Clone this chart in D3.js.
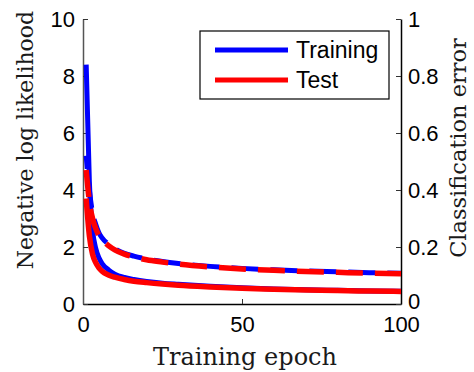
<!DOCTYPE html>
<html>
<head>
<meta charset="utf-8">
<script src="https://cdn.jsdelivr.net/npm/d3@7"></script>
<style>
  body { margin: 0; background: #fff; }
  svg { display: block; }
  .tick text { font-family: "Liberation Sans", Arial, sans-serif; font-size: 22px; fill: #000; }
  .title { font-family: "DejaVu Serif", serif; fill: #1a1a1a; }
</style>
</head>
<body>
<div id="chart"></div>
<script>
// values
const epochs    = [1, 2, 3, 4, 5, 6, 8, 10, 13, 16, 20, 25, 30, 40, 50, 60, 70, 80, 90, 100];
const trainNll  = [8.4, 4.3, 2.6, 1.95, 1.62, 1.42, 1.2, 1.05, 0.93, 0.86, 0.79, 0.73, 0.69, 0.62, 0.57, 0.53, 0.5, 0.48, 0.46, 0.45];
const testNll   = [3.7, 2.4, 1.75, 1.45, 1.27, 1.15, 1.02, 0.94, 0.86, 0.8, 0.75, 0.7, 0.66, 0.6, 0.55, 0.52, 0.49, 0.47, 0.455, 0.44];
const trainErr  = [0.52, 0.4, 0.32, 0.28, 0.25, 0.232, 0.21, 0.194, 0.178, 0.168, 0.158, 0.149, 0.142, 0.132, 0.125, 0.12, 0.116, 0.113, 0.11, 0.108];
const testErr   = [0.47, 0.36, 0.3, 0.265, 0.24, 0.225, 0.205, 0.19, 0.175, 0.165, 0.155, 0.147, 0.14, 0.13, 0.123, 0.118, 0.114, 0.111, 0.108, 0.106];
const xTicks    = [0, 50, 100];
const leftTicks = [0, 2, 4, 6, 8, 10];
const rightTicks = [0, 0.2, 0.4, 0.6, 0.8, 1];
const legendNames = ["Training", "Test"];
const colors = ["#0000ff", "#ff0000"];

const width = 474, height = 372;
const plotLeft = 83, plotRight = 401, plotTop = 19, plotBottom = 304;

const svg = d3.select("#chart").append("svg")
  .attr("width", width)
  .attr("height", height);

const x = d3.scaleLinear().domain([0, 100]).range([plotLeft, plotRight]);
const yL = d3.scaleLinear().domain([0, 10]).range([plotBottom, plotTop]);
const yR = d3.scaleLinear().domain([0, 1]).range([plotBottom, plotTop]);

// axes, matlab style ticks pointing inward
const xAxis = svg.append("g")
  .attr("transform", `translate(0,${plotBottom})`)
  .call(d3.axisBottom(x).tickValues(xTicks).tickSizeInner(-5).tickSizeOuter(0).tickPadding(12));
xAxis.select(".domain").attr("stroke", "#000").attr("stroke-width", 1.5);

const lAxis = svg.append("g")
  .attr("transform", `translate(${plotLeft},0)`)
  .call(d3.axisLeft(yL).tickValues(leftTicks).tickSizeInner(-5).tickSizeOuter(0).tickPadding(8));
lAxis.select(".domain").attr("stroke", "#555").attr("stroke-width", 1.5);

const rAxis = svg.append("g")
  .attr("transform", `translate(${plotRight},0)`)
  .call(d3.axisRight(yR).tickValues(rightTicks).tickFormat(d3.format("~g")).tickSizeInner(-5).tickSizeOuter(0).tickPadding(7));
rAxis.select(".domain").attr("stroke", "#000").attr("stroke-width", 1.5);
// matlab puts the bottom-right zero a touch higher
rAxis.selectAll(".tick text").filter(d => d === 0).attr("dy", "0.2em");

svg.selectAll(".tick line").attr("stroke", "#333");

// lines
const lineL = d3.line().x((d, i) => x(epochs[i])).y(d => yL(d)).curve(d3.curveMonotoneX);
const lineR = d3.line().x((d, i) => x(epochs[i])).y(d => yR(d)).curve(d3.curveMonotoneX);

svg.append("path").datum(trainNll).attr("d", lineL)
  .attr("fill", "none").attr("stroke", colors[0]).attr("stroke-width", 5);
svg.append("path").datum(trainErr).attr("d", lineR)
  .attr("fill", "none").attr("stroke", colors[0]).attr("stroke-width", 5)
  .attr("stroke-dasharray", "27,12").attr("stroke-dashoffset", 14);
svg.append("path").datum(testNll).attr("d", lineL)
  .attr("fill", "none").attr("stroke", colors[1]).attr("stroke-width", 5.5);
svg.append("path").datum(testErr).attr("d", lineR)
  .attr("fill", "none").attr("stroke", colors[1]).attr("stroke-width", 5.5)
  .attr("stroke-dasharray", "27,12");

// legend
const legend = svg.append("g");
legend.append("rect")
  .attr("x", 200).attr("y", 31).attr("width", 189).attr("height", 68)
  .attr("fill", "#fff").attr("stroke", "#000").attr("stroke-width", 1.2);
legendNames.forEach((name, i) => {
  const ly = 50 + i * 30;
  legend.append("line")
    .attr("x1", 215).attr("x2", 288).attr("y1", ly).attr("y2", ly)
    .attr("stroke", colors[i]).attr("stroke-width", 5);
  legend.append("text")
    .attr("x", 296).attr("y", ly + 8)
    .attr("font-family", "Liberation Sans, Arial, sans-serif")
    .attr("font-size", 23)
    .text(name);
});

// titles
svg.append("text").attr("class", "title")
  .attr("x", 245).attr("y", 365)
  .attr("text-anchor", "middle")
  .attr("font-size", 24)
  .text("Training epoch");

svg.append("text").attr("class", "title")
  .attr("transform", "translate(33,140) rotate(-90)")
  .attr("text-anchor", "middle")
  .attr("font-size", 22)
  .text("Negative log likelihood");

svg.append("text").attr("class", "title")
  .attr("transform", "translate(466,148) rotate(-90)")
  .attr("text-anchor", "middle")
  .attr("font-size", 22.5)
  .text("Classification error");
</script>
</body>
</html>
